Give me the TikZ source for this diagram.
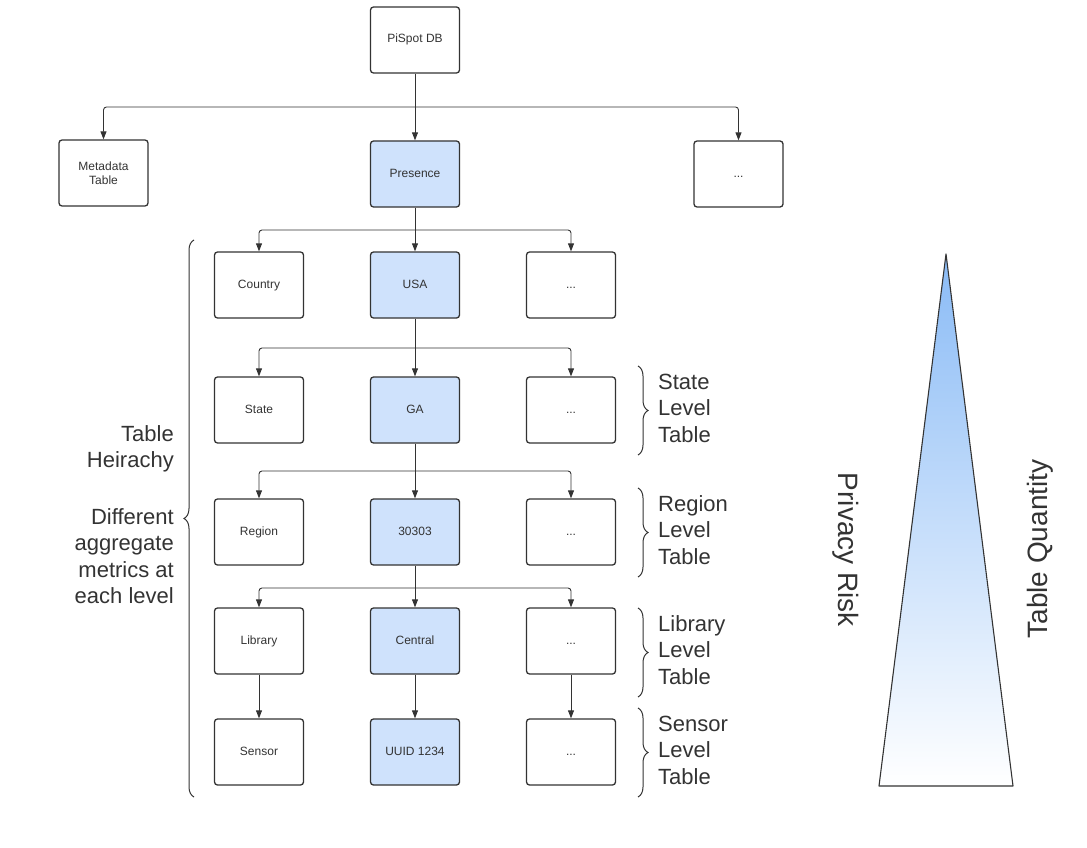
\documentclass[tikz,border=0pt]{standalone}
\usepackage{fontspec}
\setmainfont{Liberation Sans}
\usetikzlibrary{arrows.meta,decorations.pathreplacing,positioning}
\definecolor{inkgray}{HTML}{333333}
\definecolor{tblblue}{HTML}{CFE2FC}
\definecolor{ritop}{HTML}{8ABBF6}

\tikzset{
  tbl/.style={draw=inkgray,line width=1.3pt,rounded corners=3pt,minimum width=89pt,
    minimum height=66pt,text=inkgray,font=\fontsize{12}{14.5}\selectfont,
    text height=7.5pt,text depth=1.5pt},
  hot/.style={tbl,fill=tblblue},
  link/.style={draw=inkgray,line width=0.9pt,rounded corners=3pt,-{Triangle[length=8pt,width=6pt]}},
  bigtxt/.style={text=inkgray,font=\fontsize{22}{26.5}\selectfont,inner sep=0pt},
  grp/.style={draw=inkgray,line width=1pt,decorate,decoration={brace,amplitude=10pt}}
}

\begin{document}
\begin{tikzpicture}[x=1pt,y=-1pt]
\useasboundingbox (0,0) rectangle (1087,848);

% top levels
\node (db) [tbl] at (415,40) {PiSpot DB};
\node (meta) [tbl,align=center,text height=,text depth=] at (103.5,173) {Metadata\\Table};
\node (pres) [hot] at (415,174) {Presence};
\node (more) [tbl] at (738.5,174) {...};

% country level
\node (country) [tbl] at (259,285) {Country};
\node (usa) [hot] at (415,285) {USA};
\node (more1) [tbl] at (571,285) {...};

% state level
\node (state) [tbl] at (259,410) {State};
\node (ga) [hot] at (415,410) {GA};
\node (more2) [tbl] at (571,410) {...};

% region level
\node (region) [tbl] at (259,532) {Region};
\node (zip) [hot] at (415,532) {30303};
\node (more3) [tbl] at (571,532) {...};

% library level
\node (library) [tbl] at (259,641) {Library};
\node (central) [hot] at (415,641) {Central};
\node (more4) [tbl] at (571,641) {...};

% sensor level
\node (sensor) [tbl] at (259,752) {Sensor};
\node (uuid) [hot] at (415,752) {UUID 1234};
\node (more5) [tbl] at (571,752) {...};

% branch points
\coordinate (j0) at (415,107);
\coordinate (j1) at (415,230);
\coordinate (j2) at (415,348);
\coordinate (j3) at (415,471);
\coordinate (j4) at (415,588);

\draw [link,-] (db) -- (j0);
\draw [link] (j0) -| (meta);
\draw [link] (j0) -- (pres);
\draw [link] (j0) -| (more);

\draw [link,-] (pres) -- (j1);
\draw [link] (j1) -| (country);
\draw [link] (j1) -- (usa);
\draw [link] (j1) -| (more1);

\draw [link,-] (usa) -- (j2);
\draw [link] (j2) -| (state);
\draw [link] (j2) -- (ga);
\draw [link] (j2) -| (more2);

\draw [link,-] (ga) -- (j3);
\draw [link] (j3) -| (region);
\draw [link] (j3) -- (zip);
\draw [link] (j3) -| (more3);

\draw [link,-] (zip) -- (j4);
\draw [link] (j4) -| (library);
\draw [link] (j4) -- (central);
\draw [link] (j4) -| (more4);

\draw [link] (library) -- (sensor);
\draw [link] (central) -- (uuid);
\draw [link] (more4) -- (more5);

% braces and labels
\draw [grp] (194,797) -- (194,240);
\node (hier) [bigtxt,align=right,anchor=east] at (174,449) {Table\\Heirachy};
\node (aggr) [bigtxt,align=right,anchor=east] at (174,556) {Different\\aggregate\\metrics at\\each level};

\draw [grp] (638,366) -- (638,455);
\draw [grp] (638,488) -- (638,577);
\draw [grp] (638,608) -- (638,697);
\draw [grp] (638,708) -- (638,797);
\node (lvstate) [bigtxt,align=left,anchor=west] at (658,408) {State\\Level\\Table};
\node (lvregion) [bigtxt,align=left,anchor=west] at (658,530) {Region\\Level\\Table};
\node (lvlib) [bigtxt,align=left,anchor=west] at (658,650) {Library\\Level\\Table};
\node (lvsensor) [bigtxt,align=left,anchor=west] at (658,750) {Sensor\\Level\\Table};

% risk triangle
\shade [top color=ritop,bottom color=white] (946,254) -- (1013,786) -- (879,786) -- cycle;
\draw [inkgray,line width=1.1pt,line join=round] (946,254) -- (1013,786) -- (879,786) -- cycle;
\node (risk) [bigtxt,font=\fontsize{28}{32}\selectfont,rotate=-90] at (846,550) {Privacy Risk};
\node (qty) [bigtxt,font=\fontsize{28}{32}\selectfont,rotate=90] at (1040,549) {Table Quantity};
\end{tikzpicture}
\end{document}
